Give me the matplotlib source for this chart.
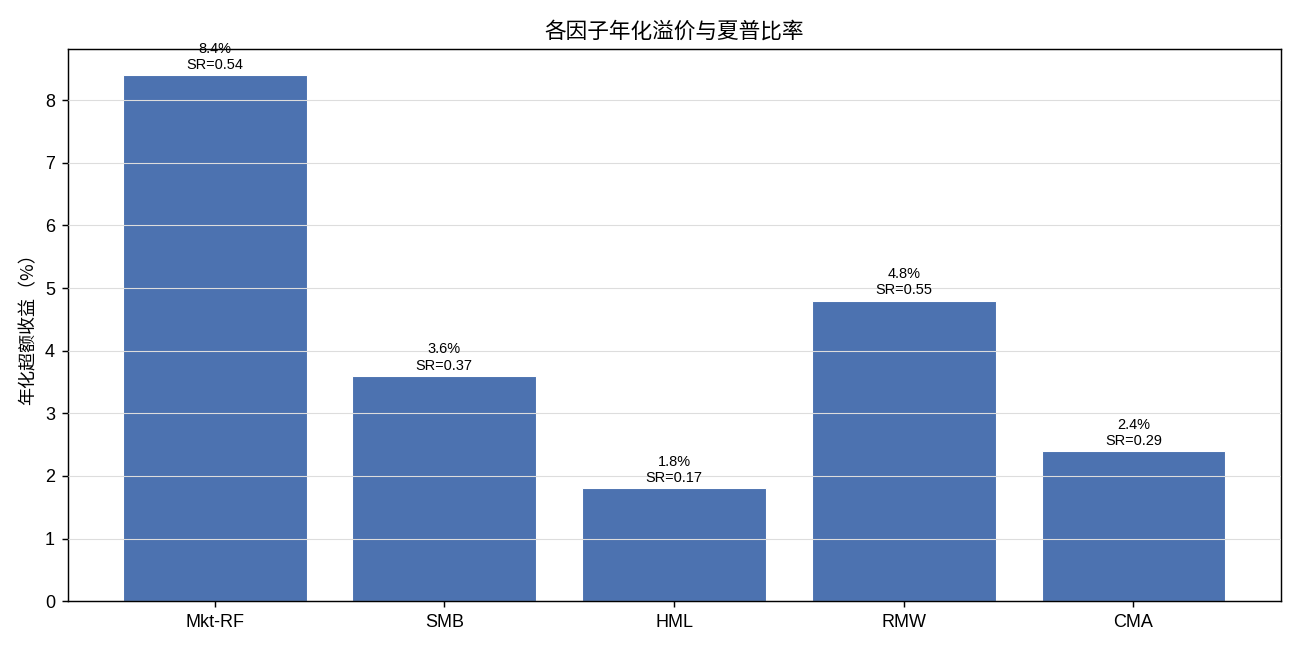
import matplotlib
matplotlib.use('Agg')
import matplotlib.pyplot as plt
import numpy as np

plt.rcParams['font.family'] = ['Liberation Sans', 'Noto Sans CJK SC', 'DejaVu Sans']
plt.rcParams['axes.unicode_minus'] = False

factors = ['Mkt-RF', 'SMB', 'HML', 'RMW', 'CMA']
premium = [8.4, 3.6, 1.8, 4.8, 2.4]
sharpe = [0.54, 0.37, 0.17, 0.55, 0.29]

fig, ax = plt.subplots(figsize=(10, 5), dpi=130)
x = np.arange(len(factors))
bars = ax.bar(x, premium, width=0.8, color='#4C72B0', edgecolor='white', linewidth=0.6)

# two-line annotation above each bar
for b, p, s in zip(bars, premium, sharpe):
    ax.text(b.get_x() + b.get_width() / 2, b.get_height() + 0.05,
            f'{p:.1f}%\nSR={s:.2f}', ha='center', va='bottom', fontsize=8)

ax.set_xticks(x)
ax.set_xticklabels(factors)
ax.set_ylabel('年化超额收益（%）', family=['Noto Sans CJK SC'])
ax.set_title('各因子年化溢价与夏普比率', fontsize=12)
ax.yaxis.grid(True, color='#dddddd', linewidth=0.6)
ax.set_axisbelow(False)

fig.subplots_adjust(left=0.052, right=0.985, top=0.925, bottom=0.075)
plt.savefig('out.png', dpi=130)
plt.close()
